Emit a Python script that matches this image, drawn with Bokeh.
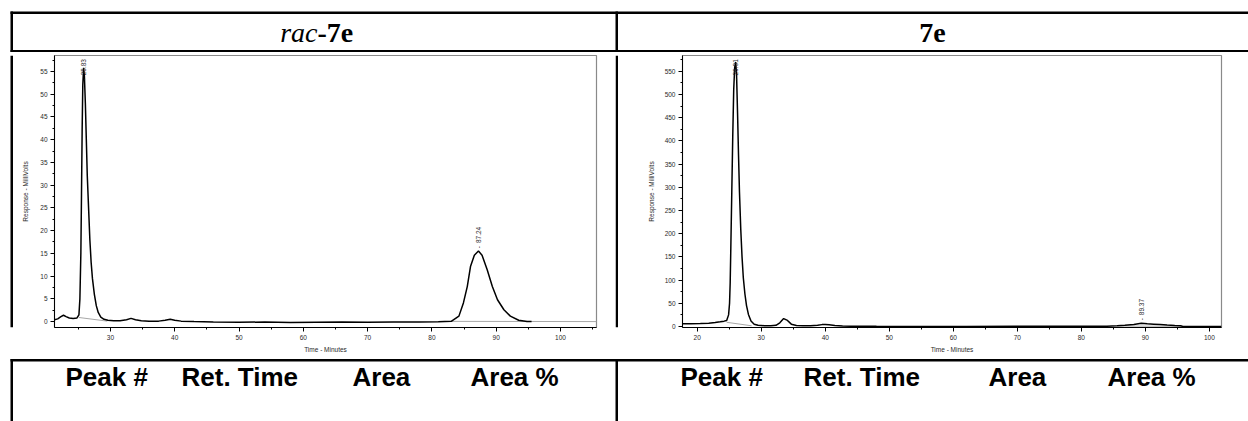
import math
from bokeh.plotting import figure
from bokeh.layouts import column, row
from bokeh.models import Range1d, SingleIntervalTicker
from bokeh.core.properties import value
from bokeh.embed import file_html
from bokeh.resources import INLINE

# ---------------- data ----------------
header_left_italic = "rac"
header_left_bold = "-7e"
header_right = "7e"
column_labels = ["Peak #", "Ret. Time", "Area", "Area %"]

x_axis_label = "Time - Minutes"
y_axis_label = "Response - MilliVolts"

# rac-7e chromatogram (minutes, mV)
rac_time = [21.3, 21.8, 22.3, 22.7, 23.1, 23.6, 24.2, 24.8, 25.1, 25.25, 25.4, 25.5,
            25.6, 25.7, 25.83, 25.95, 26.1, 26.25, 26.4, 26.6, 26.8, 27.0, 27.2, 27.5,
            27.8, 28.1, 28.5, 29.0, 29.6, 30.5, 31.5, 32.5, 33.2, 33.9, 34.8, 36.0,
            37.5, 38.5, 39.3, 40.0, 41.0, 43.0, 46.0, 50.0, 54.0, 58.0, 62.0, 66.0,
            70.0, 74.0, 78.0, 81.0, 83.0, 84.2, 84.9, 85.5, 86.0, 86.6, 87.24, 87.8,
            88.6, 89.4, 90.2, 91.2, 92.2, 93.5, 94.8, 95.5]
rac_signal = [0.4, 0.6, 1.1, 1.4, 1.1, 0.8, 0.7, 0.8, 1.5, 5, 15, 28,
              42, 52, 55.8, 54, 48, 40, 32, 25, 18, 13, 9.5, 6,
              3.5, 2, 1.0, 0.5, 0.3, 0.2, 0.2, 0.4, 0.7, 0.4, 0.2, 0.1,
              0.1, 0.3, 0.5, 0.3, 0.1, 0.0, -0.1, -0.15, -0.1, -0.2, -0.15, -0.1,
              -0.15, -0.1, -0.1, -0.05, 0.05, 1.2, 4.1, 7.7, 12.1, 14.6, 15.5, 14.6,
              11.4, 7.7, 4.8, 2.6, 1.2, 0.3, 0.0, 0.0]
rac_peak_times = [25.83, 87.24]
rac_peak_heights = [55.8, 15.5]
rac_base_t = [[25.1, 29.5], [83.0, 105.6]]
rac_base_v = [[0.9, 0.1], [0.05, 0.0]]

# 7e chromatogram (minutes, mV)
sel_time = [17.7, 19.0, 20.5, 21.8, 22.8, 23.6, 24.2, 24.6, 24.9, 25.05, 25.15, 25.25,
            25.4, 25.55, 25.7, 25.85, 26.01, 26.15, 26.3, 26.45, 26.6, 26.8, 27.0, 27.2,
            27.45, 27.7, 28.0, 28.4, 28.9, 29.5, 30.5, 31.5, 32.3, 32.9, 33.5, 34.1,
            34.7, 35.5, 36.5, 37.7, 38.8, 39.5, 40.0, 40.6, 41.5, 42.7, 44, 48,
            55, 62, 70, 78, 84, 85.6, 86.8, 88.2, 89.37, 90.3, 91.3, 92.3,
            93.4, 94.6, 95.5, 95.8, 98, 101.9]
sel_signal = [5.7, 6.0, 6.5, 7.2, 8.5, 10.0, 11.5, 13, 25, 50, 95, 170,
              290, 410, 510, 558, 570, 540, 460, 370, 290, 210, 150, 105,
              70, 45, 26, 12, 5, 2.5, 1.5, 1.5, 2.5, 8, 17, 13,
              5, 2, 1.5, 1.5, 2.5, 4, 4.3, 3.5, 2, 1, 0.5, 0.3,
              0.2, 0.2, 0.3, 0.3, 0.5, 1.5, 2.5, 4.3, 7, 5.7, 5, 4.3,
              3, 2, 1.4, 0.3, 0.2, 0.2]
sel_peak_times = [26.01, 89.37]
sel_peak_heights = [570, 7]
sel_base_t = [[24.6, 28.5], [85.6, 95.8]]
sel_base_v = [[9, 1.5], [1.0, 0.3]]

# ---------------- styling helpers ----------------
SANS = "Liberation Sans"
SERIF = "Liberation Serif"
TXT = "#2a2a2a"
W = 1248


def canvas(w, h, x0, y0):
    p = figure(width=w, height=h, x_range=Range1d(x0, x0 + w), y_range=Range1d(y0 + h, y0),
               min_border=0, min_border_left=0, min_border_right=0, min_border_top=0,
               min_border_bottom=0, toolbar_location=None, output_backend="svg",
               x_axis_location=None, y_axis_location=None)
    p.xgrid.visible = False
    p.ygrid.visible = False
    p.outline_line_color = None
    p.background_fill_color = "white"
    p.border_fill_color = "white"
    return p


def rules(p, lefts, rights, tops, bottoms):
    p.quad(left=lefts, right=rights, top=tops, bottom=bottoms,
           fill_color="black", line_color=None)


def chart(w, h, mbl, mbr, mbt, mbb, xr, yr, yint, t, s, bt, bv, pt, ph, ylab_standoff):
    p = figure(width=w, height=h, x_range=Range1d(*xr), y_range=Range1d(*yr),
               min_border_left=mbl, min_border_right=mbr, min_border_top=mbt,
               min_border_bottom=mbb, toolbar_location=None, output_backend="svg")
    p.xgrid.visible = False
    p.ygrid.visible = False
    p.outline_line_color = "#8a8a8a"
    p.outline_line_width = 1.2
    p.background_fill_color = "white"
    p.border_fill_color = "white"
    p.xaxis.ticker = SingleIntervalTicker(interval=10, num_minor_ticks=2)
    p.yaxis.ticker = SingleIntervalTicker(interval=yint, num_minor_ticks=2)
    p.xaxis.axis_label = x_axis_label
    p.yaxis.axis_label = y_axis_label
    for ax in (p.xaxis[0], p.yaxis[0]):
        ax.axis_line_color = "black"
        ax.axis_line_width = 1
        ax.major_tick_line_color = "black"
        ax.minor_tick_line_color = "black"
        ax.major_tick_in = 0
        ax.major_tick_out = 4
        ax.minor_tick_in = 0
        ax.minor_tick_out = 2
        ax.major_label_text_font = SANS
        ax.major_label_text_font_size = "6.5px"
        ax.major_label_text_color = TXT
        ax.major_label_standoff = 3
        ax.axis_label_text_font = SANS
        ax.axis_label_text_font_size = "6.5px"
        ax.axis_label_text_font_style = "normal"
        ax.axis_label_text_color = TXT
    p.xaxis[0].axis_label_standoff = 3
    p.yaxis[0].axis_label_standoff = ylab_standoff

    for bx, by in zip(bt, bv):
        p.line(bx, by, line_color="#a8a8a8", line_width=1)
    p.line(t, s, line_color="black", line_width=1.5)

    frame_h = h - mbt - mbb
    px_per_unit = frame_h / (yr[1] - yr[0])
    clamp = yr[1] - 28.0 / px_per_unit
    anchors = [min(v, clamp) for v in ph]
    labels = [f"{x:.2f}" for x in pt]
    p.text(x=pt, y=anchors, text=labels, angle=math.pi / 2, text_align="left",
           text_baseline="middle", y_offset=-8, text_font=value(SANS),
           text_font_size="6.5px", text_color=TXT)
    p.text(x=pt, y=anchors, text=["-"] * len(pt), angle=math.pi / 2, text_align="center",
           text_baseline="middle", y_offset=-4, text_font=value(SANS),
           text_font_size="6.5px", text_color=TXT)
    return p


# ---------------- header row (y 0..52) ----------------
hdr = canvas(W, 52, 0, 0)
rules(hdr, [10, 10, 10, 615], [W, W, 12.5, 617.5], [11, 49.5, 11, 11], [13.5, 52, 52, 52])
hdr.text(x=[317], y=[32], text=[header_left_italic], text_align="right",
         text_baseline="middle", text_font=value(SERIF), text_font_style="italic",
         text_font_size="28px", text_color="black")
hdr.text(x=[317], y=[32], text=[header_left_bold], text_align="left",
         text_baseline="middle", text_font=value(SERIF), text_font_style="bold",
         text_font_size="28px", text_color="black")
hdr.text(x=[932], y=[32], text=[header_right], text_align="center",
         text_baseline="middle", text_font=value(SERIF), text_font_style="bold",
         text_font_size="28px", text_color="black")

# ---------------- chart row (y 52..358) ----------------
CH = 306
vl = canvas(13, CH, 0, 52)
rules(vl, [10], [12.5], [52], [52 + CH])

left_chart = chart(602, CH, 41, 19, 2, 30, (21.3, 105.6), (-1.3, 58.5), 5,
                   rac_time, rac_signal, rac_base_t, rac_base_v,
                   rac_peak_times, rac_peak_heights, 8)

dv = canvas(3, CH, 615, 52)
rules(dv, [615], [617.5], [52], [52 + CH])

right_chart = chart(630, CH, 64, 27, 3, 31, (17.7, 101.9), (-2.2, 584), 50,
                    sel_time, sel_signal, sel_base_t, sel_base_v,
                    sel_peak_times, sel_peak_heights, 7)

# ---------------- bottom row (y 358..421) ----------------
bot = canvas(W, 63, 0, 358)
rules(bot, [10, 10, 615], [W, 12.5, 617.5], [358.5, 358.5, 358.5], [361, 421, 421])
left_x = [65, 181, 352, 470]
right_x = [680, 803, 988, 1107]
bot.text(x=left_x + right_x, y=[376] * 8, text=column_labels + column_labels,
         text_align="left", text_baseline="middle", text_font=value(SANS),
         text_font_style="bold", text_font_size="26px", text_color="black")

layout = column(hdr, row(vl, left_chart, dv, right_chart, spacing=0), bot, spacing=0)

open("out.html", "w").write(file_html(layout, INLINE))
